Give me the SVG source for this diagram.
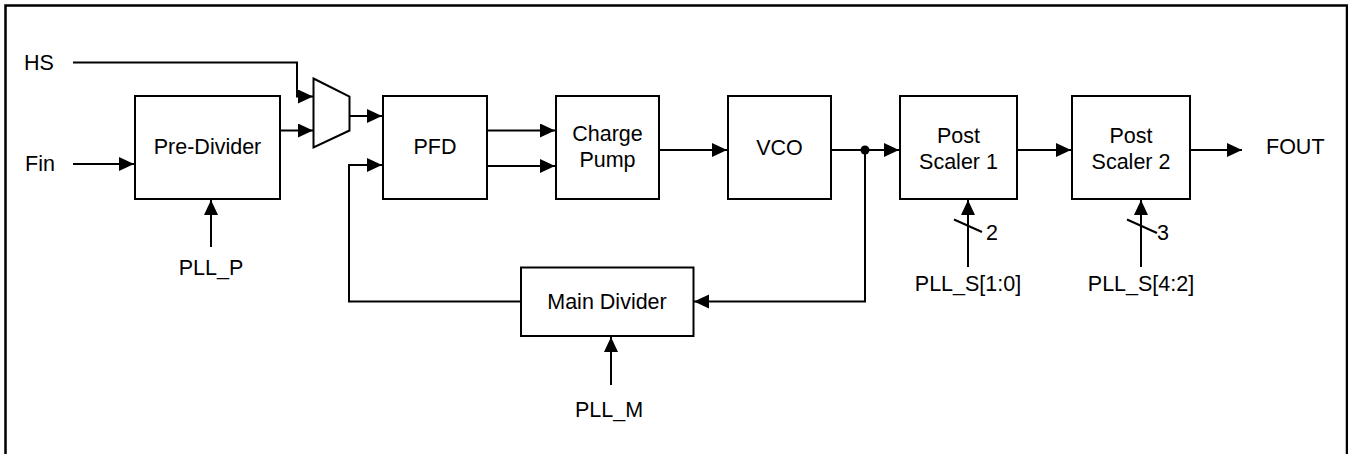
<svg xmlns="http://www.w3.org/2000/svg" width="1348" height="454" viewBox="0 0 1348 454">
<style>
.box{fill:#fff;stroke:#000;stroke-width:2}
.ln{fill:none;stroke:#000;stroke-width:2}
.ar{marker-end:url(#ah)}
text{font-family:"Liberation Sans",Arial,sans-serif;font-size:21.5px;fill:#000}
.c{text-anchor:middle}
</style>
<defs>
<marker id="ah" markerUnits="userSpaceOnUse" markerWidth="16" markerHeight="15" refX="15" refY="7" orient="auto">
<path d="M0,0 L15,7 L0,14 z" fill="#000"/>
</marker>
</defs>
<rect width="1348" height="454" fill="#fff"/>
<path d="M5.5,454 V5.5 H1347 V454" fill="none" stroke="#000" stroke-width="2.5"/>

<g id="labels">
<text x="24" y="70">HS</text>
<text x="25" y="171">Fin</text>
<text x="1266" y="154">FOUT</text>
<text class="c" x="211" y="275">PLL_P</text>
<text class="c" x="609" y="417">PLL_M</text>
<text class="c" x="968" y="291">PLL_S[1:0]</text>
<text class="c" x="1141" y="291">PLL_S[4:2]</text>
<text x="986" y="240">2</text>
<text x="1157" y="240">3</text>
</g>

<g id="pre-divider">
<rect class="box" x="135" y="96" width="145" height="103"/>
<text class="c" x="207.5" y="153.5">Pre-Divider</text>
</g>
<g id="mux">
<path class="box" d="M313.5,78.5 L349.5,96.5 L349.5,130.5 L313.5,147.5 Z"/>
</g>
<g id="pfd">
<rect class="box" x="383" y="96" width="104" height="103"/>
<text class="c" x="435" y="154">PFD</text>
</g>
<g id="charge-pump">
<rect class="box" x="556" y="96" width="103" height="103"/>
<text class="c" x="607.5" y="141">Charge</text>
<text class="c" x="607.5" y="167">Pump</text>
</g>
<g id="vco">
<rect class="box" x="728" y="96" width="103" height="103"/>
<text class="c" x="779.5" y="155">VCO</text>
</g>
<g id="post-scaler-1">
<rect class="box" x="900" y="96" width="117" height="103"/>
<text class="c" x="958.5" y="142.5">Post</text>
<text class="c" x="958.5" y="168.5">Scaler 1</text>
</g>
<g id="post-scaler-2">
<rect class="box" x="1072" y="96" width="118" height="103"/>
<text class="c" x="1131" y="142.5">Post</text>
<text class="c" x="1131" y="168.5">Scaler 2</text>
</g>
<g id="main-divider">
<rect class="box" x="521" y="267.5" width="172.5" height="68.5"/>
<text class="c" x="607" y="309">Main Divider</text>
</g>

<g id="connectors">
<path class="ln ar" d="M73,62.5 H297 V96.5 H313"/>
<path class="ln ar" d="M73,164 H134"/>
<path class="ln ar" d="M280,130.5 H313"/>
<path class="ln ar" d="M349.5,116 H382"/>
<path class="ln ar" d="M521,301.5 H349 V165 H382"/>
<path class="ln ar" d="M487,130.5 H555"/>
<path class="ln ar" d="M487,166 H555"/>
<path class="ln ar" d="M659,150 H727"/>
<path class="ln ar" d="M831,150 H899"/>
<path class="ln ar" d="M865,150 V301.5 H694"/>
<circle cx="865" cy="150" r="4.5" fill="#000"/>
<path class="ln ar" d="M1017,150 H1071"/>
<path class="ln ar" d="M1190,150 H1242"/>
<path class="ln ar" d="M211,247 V200"/>
<path class="ln ar" d="M611,385 V337"/>
<path class="ln ar" d="M968,267 V200"/>
<path class="ln ar" d="M1141,267 V200"/>
<path class="ln" d="M954,219.5 L982,232"/>
<path class="ln" d="M1127,219.5 L1157,233"/>
</g>
</svg>
